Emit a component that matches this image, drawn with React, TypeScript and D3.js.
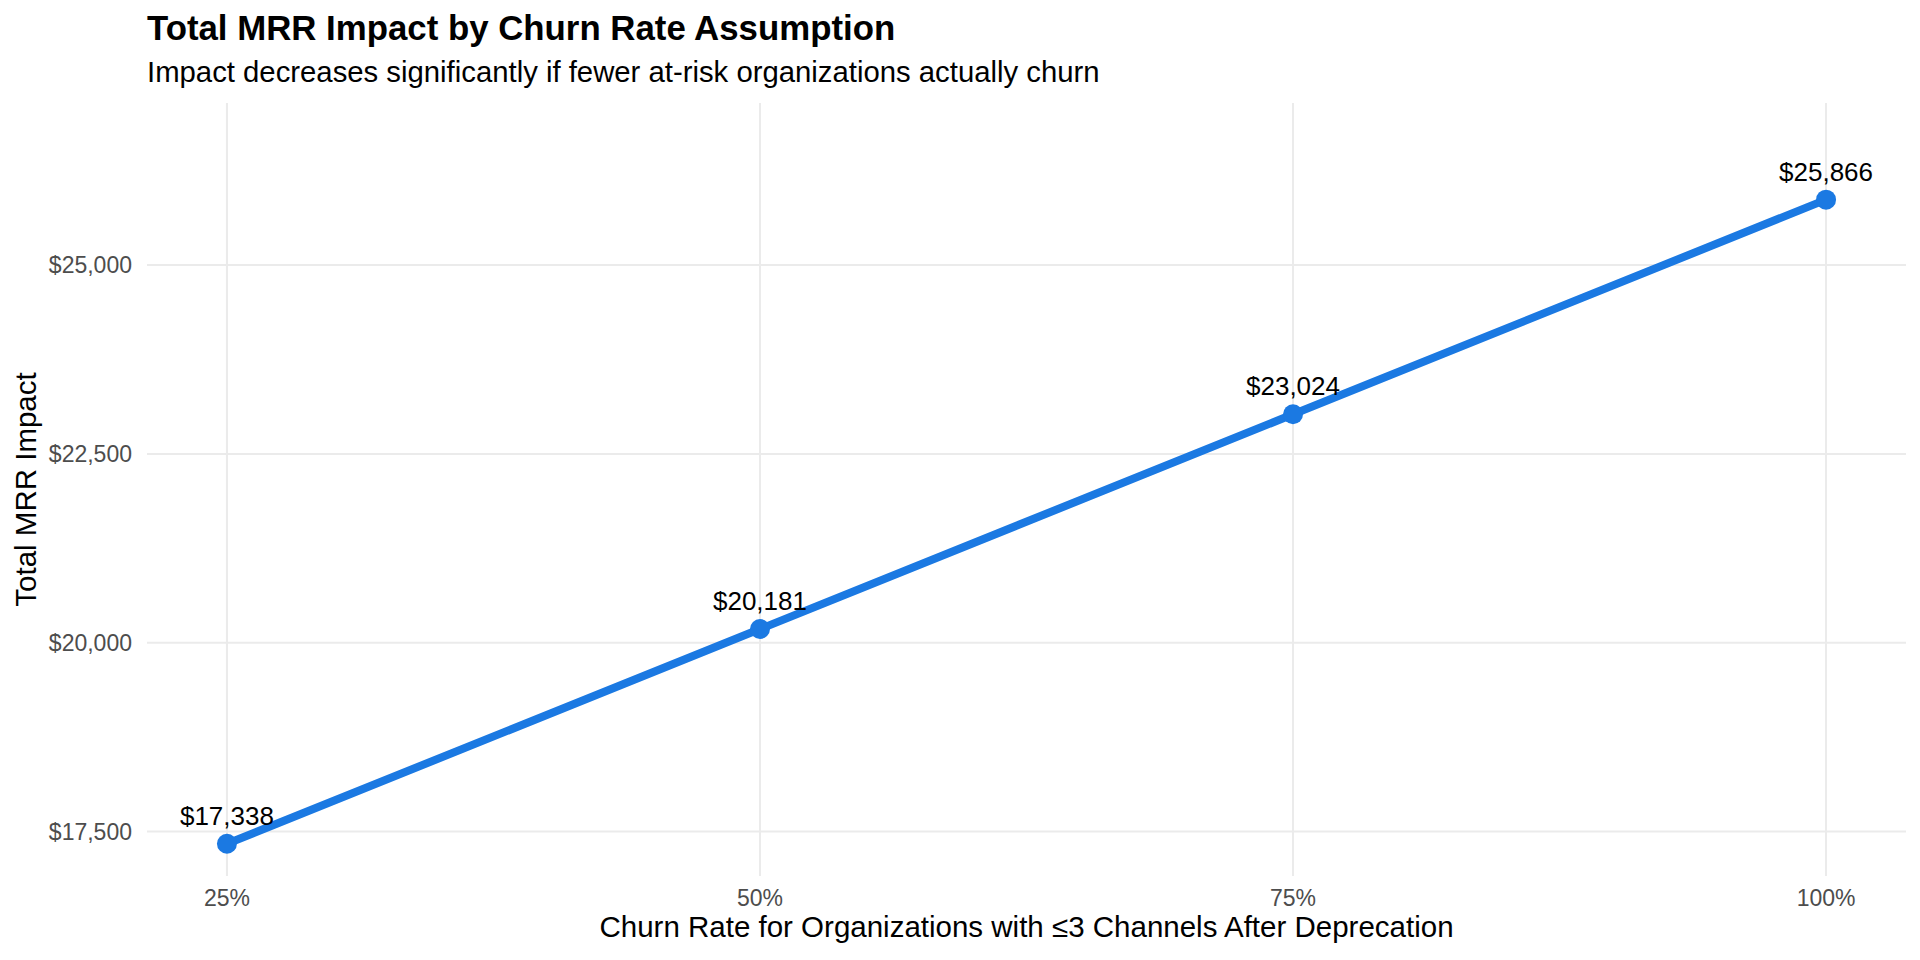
import React from "react";
import * as d3 from "d3";

const churnRates = [25, 50, 75, 100];
const mrrImpact = [17338, 20181, 23024, 25866];
const yTicks = [17500, 20000, 22500, 25000];
const xTicks = [25, 50, 75, 100];

const W = 1920;
const H = 960;
const panel = { left: 147, right: 1906, top: 103, bottom: 876 };
const FONT = "'Liberation Sans', Arial, Helvetica, sans-serif";
const BLUE = "#1B79E2";

export default function App() {
  const xMin = d3.min(churnRates)!;
  const xMax = d3.max(churnRates)!;
  const xPad = (xMax - xMin) * 0.05;
  const x = d3.scaleLinear().domain([xMin - xPad, xMax + xPad]).range([panel.left, panel.right]);

  const yMin = d3.min(mrrImpact)!;
  const yMax = d3.max(mrrImpact)!;
  const yr = yMax - yMin;
  const y = d3.scaleLinear().domain([yMin - yr * 0.05, yMax + yr * 0.15]).range([panel.bottom, panel.top]);

  const data = churnRates.map((c, i) => ({ c, v: mrrImpact[i] }));
  const line = d3.line<{ c: number; v: number }>().x((d) => x(d.c)).y((d) => y(d.v));
  const fmt = (v: number) => "$" + d3.format(",")(v);

  return (
    <svg width={W} height={H} style={{ display: "block", position: "absolute", left: 0, top: 0, background: "#fff" }} fontFamily={FONT}>
      <rect x={0} y={0} width={W} height={H} fill="#fff" />
      {yTicks.map((t) => (
        <line key={"gy" + t} x1={panel.left} x2={panel.right} y1={y(t)} y2={y(t)} stroke="#EBEBEB" strokeWidth={2} />
      ))}
      {xTicks.map((t) => (
        <line key={"gx" + t} x1={x(t)} x2={x(t)} y1={panel.top} y2={panel.bottom} stroke="#EBEBEB" strokeWidth={2} />
      ))}
      <path d={line(data) || ""} fill="none" stroke={BLUE} strokeWidth={8} strokeLinecap="butt" />
      {data.map((d) => (
        <circle key={"p" + d.c} cx={x(d.c)} cy={y(d.v)} r={10} fill={BLUE} />
      ))}
      {data.map((d) => (
        <text key={"l" + d.c} x={x(d.c)} y={y(d.v) - 19} textAnchor="middle" fontSize={26} fill="#000">
          {fmt(d.v)}
        </text>
      ))}
      {yTicks.map((t) => (
        <text key={"ty" + t} x={132} y={y(t)} dy="0.35em" textAnchor="end" fontSize={23} fill="#4D4D4D">
          {fmt(t)}
        </text>
      ))}
      {xTicks.map((t) => (
        <text key={"tx" + t} x={x(t)} y={906} textAnchor="middle" fontSize={23} fill="#4D4D4D">
          {t + "%"}
        </text>
      ))}
      <text x={(panel.left + panel.right) / 2} y={937} textAnchor="middle" fontSize={29.5} fill="#000">
        Churn Rate for Organizations with ≤3 Channels After Deprecation
      </text>
      <text transform={`translate(36, ${(panel.top + panel.bottom) / 2}) rotate(-90)`} textAnchor="middle" fontSize={29.5} fill="#000">
        Total MRR Impact
      </text>
      <text x={147} y={40} fontSize={34.8} fontWeight="bold" fill="#000">
        Total MRR Impact by Churn Rate Assumption
      </text>
      <text x={147} y={82} fontSize={29.3} fill="#000">
        Impact decreases significantly if fewer at-risk organizations actually churn
      </text>
    </svg>
  );
}
